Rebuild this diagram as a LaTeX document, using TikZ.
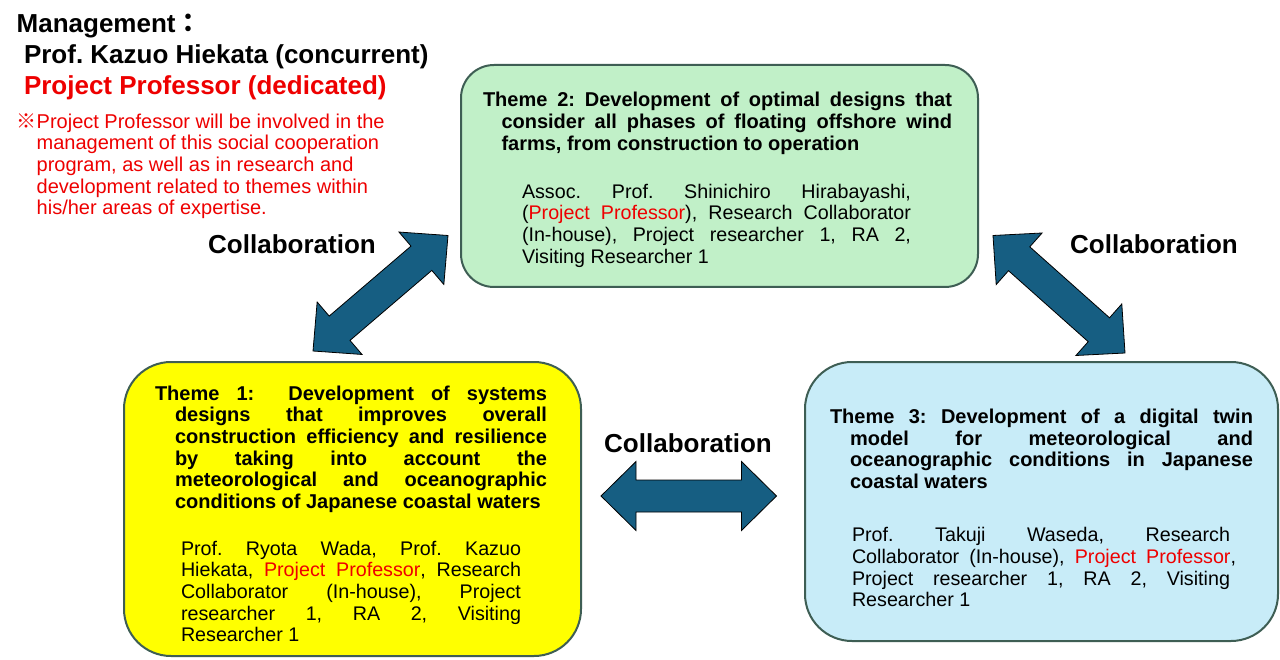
\documentclass[tikz,border=0pt]{standalone}
\usepackage{fontspec}
\setmainfont{Liberation Sans}
\newfontfamily\cjk{Noto Sans CJK JP}
\usetikzlibrary{calc}
\frenchspacing
\definecolor{bordercol}{RGB}{62,94,84}
\definecolor{greenfill}{RGB}{193,240,200}
\definecolor{bluefill}{RGB}{200,236,248}
\definecolor{yellowfill}{RGB}{255,255,0}
\definecolor{arrowfill}{RGB}{22,94,130}
\definecolor{redtxt}{RGB}{238,0,0}
\newcommand{\jline}[2]{\makebox[#1][s]{#2}}
\newcommand{\rd}[1]{\textcolor{redtxt}{#1}}
\newcommand{\dblarrow}[2]{%
  \path ($(#1)!35pt!(#2)$) coordinate (ha) ($(#2)!35pt!(#1)$) coordinate (hb);
  \draw[fatarrow] (#1)
    -- ($(ha)!34.5pt!90:(#2)$) -- ($(ha)!16pt!90:(#2)$)
    -- ($(hb)!16pt!-90:(#1)$) -- ($(hb)!34.5pt!-90:(#1)$)
    -- (#2)
    -- ($(hb)!34.5pt!90:(#1)$) -- ($(hb)!16pt!90:(#1)$)
    -- ($(ha)!16pt!-90:(#2)$) -- ($(ha)!34.5pt!-90:(#2)$) -- cycle;}
\begin{document}
\begin{tikzpicture}[x=1pt,y=-1pt,
  themebox/.style={draw=bordercol, line width=2pt, minimum width=#1, inner sep=0pt, anchor=north west},
  txt/.style={inner sep=0pt, outer sep=0pt, anchor=base west},
  fatarrow/.style={fill=arrowfill, draw=black, line width=0.8pt, line join=miter},
  titlefont/.style={font=\fontsize{20}{21.7}\selectfont\bfseries},
  bodyfont/.style={font=\fontsize{19.7}{21.7}\selectfont},
  collab/.style={inner sep=0pt, anchor=base west, font=\fontsize{26}{30}\selectfont\bfseries}]
\useasboundingbox (0,0) rectangle (1280,660);
\fill[white] (0,0) rectangle (1280,660);

% boxes
\node[themebox=517pt, minimum height=222pt, fill=greenfill, rounded corners=33pt] (box2) at (460,64) {};
\node[themebox=457pt, minimum height=294pt, fill=yellowfill, rounded corners=47pt] (box1) at (123,361) {};
\node[themebox=473pt, minimum height=279pt, fill=bluefill, rounded corners=47pt] (box3) at (804,361) {};

% header
\node[txt, font=\fontsize{26}{30}\selectfont\bfseries] (mgmt) at (16.7,32.3) {Management{\cjk ：}};
\node[txt, font=\fontsize{26}{30}\selectfont\bfseries] (prof) at (24,64) {Prof. Kazuo Hiekata (concurrent)};
\node[txt, font=\fontsize{26}{30}\selectfont\bfseries, text=redtxt] (pp) at (24,95) {Project Professor (dedicated)};
\node[txt, font=\fontsize{20}{21.6}\selectfont, text=redtxt] (note) at (16.7,128.3) {\parbox[t]{420pt}{%
{\cjk ※}Project Professor will be involved in the\\
\hspace*{20pt}management of this social cooperation\\
\hspace*{20pt}program, as well as in research and\\
\hspace*{20pt}development related to themes within\\
\hspace*{20pt}his/her areas of expertise.}};

% theme 2
\node[txt, titlefont] (t2title) at (483,107) {\parbox[t]{469pt}{%
\jline{469pt}{Theme 2: Development of optimal designs that}\\
\hspace*{18.5pt}\jline{450.5pt}{consider all phases of floating offshore wind}\\
\hspace*{18.5pt}farms, from construction to operation}};
\node[txt, bodyfont] (t2body) at (522,198.3) {\parbox[t]{389pt}{%
\jline{389pt}{Assoc. Prof. Shinichiro Hirabayashi,}\\
\jline{389pt}{(\rd{Project Professor}), Research Collaborator}\\
\jline{389pt}{(In-house), Project researcher 1, RA 2,}\\
Visiting Researcher 1}};

% theme 1
\node[txt, titlefont] (t1title) at (155,400) {\parbox[t]{392pt}{%
\jline{392pt}{Theme 1:\ \ Development of systems}\\
\hspace*{20pt}\jline{372pt}{designs that improves overall}\\
\hspace*{20pt}\jline{372pt}{construction efficiency and resilience}\\
\hspace*{20pt}\jline{372pt}{by taking into account the}\\
\hspace*{20pt}\jline{372pt}{meteorological and oceanographic}\\
\hspace*{20pt}conditions of Japanese coastal waters}};
\node[txt, bodyfont] (t1body) at (181,555) {\parbox[t]{340pt}{%
\jline{340pt}{Prof. Ryota Wada, Prof. Kazuo}\\
\jline{340pt}{Hiekata, \rd{Project Professor}, Research}\\
\jline{340pt}{Collaborator (In-house), Project}\\
\jline{340pt}{researcher 1, RA 2, Visiting}\\
Researcher 1}};

% theme 3
\node[txt, titlefont] (t3title) at (830,423.3) {\parbox[t]{423pt}{%
\jline{423pt}{Theme 3: Development of a digital twin}\\
\hspace*{20pt}\jline{403pt}{model for meteorological and}\\
\hspace*{20pt}\jline{403pt}{oceanographic conditions in Japanese}\\
\hspace*{20pt}coastal waters}};
\node[txt, bodyfont] (t3body) at (852,541.7) {\parbox[t]{384pt}{%
\jline{378pt}{Prof. Takuji Waseda, Research}\\
\jline{384pt}{Collaborator (In-house), \rd{Project Professor},}\\
\jline{378pt}{Project researcher 1, RA 2, Visiting}\\
Researcher 1}};

% collaboration labels
\node[collab] (c12) at (208,254) {Collaboration};
\node[collab] (c23) at (1070,254) {Collaboration};
\node[collab] (c13) at (604,452) {Collaboration};

% arrows
\coordinate (a1s) at (313,351);
\coordinate (a1e) at (448,235.5);
\coordinate (a2s) at (993,235.5);
\coordinate (a2e) at (1125,353);
\coordinate (a3s) at (601,496);
\coordinate (a3e) at (776.5,496);
\dblarrow{a1s}{a1e}
\dblarrow{a2s}{a2e}
\dblarrow{a3s}{a3e}
\end{tikzpicture}
\end{document}
